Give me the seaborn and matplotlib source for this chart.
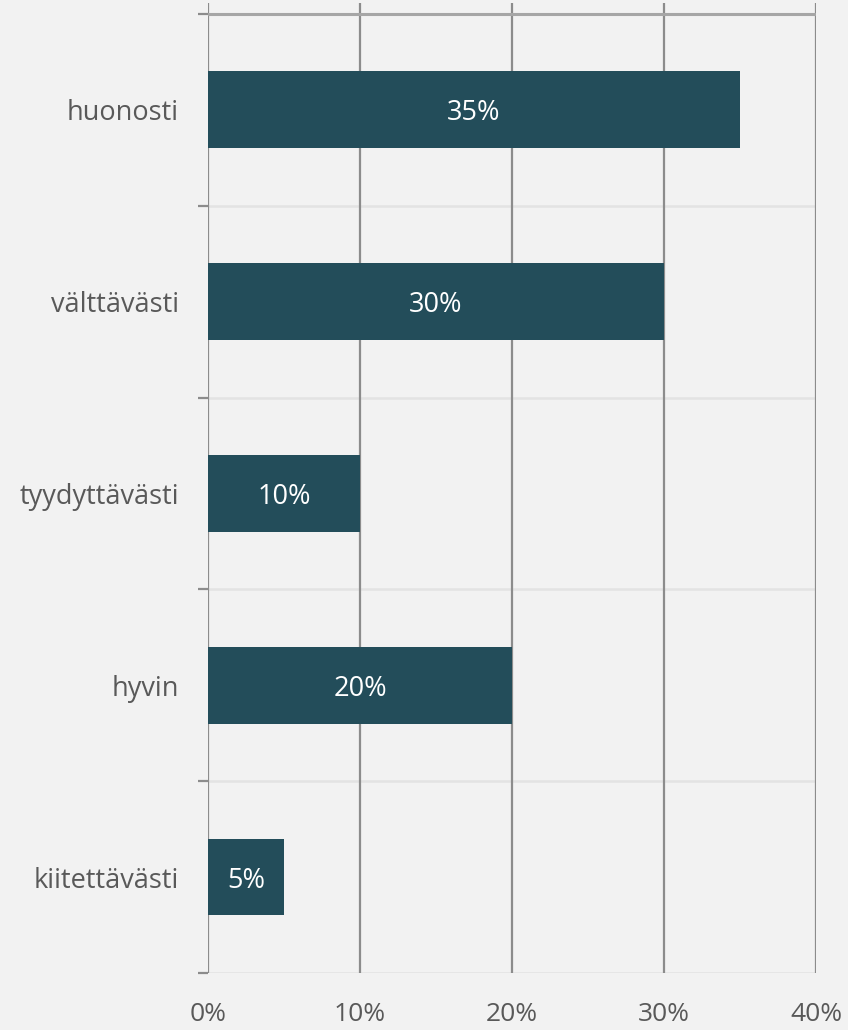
import matplotlib
matplotlib.use("Agg")
import matplotlib.pyplot as plt
import seaborn as sns
import pandas as pd

# Survey answers, top to bottom, with their shares in percent
categories = ["huonosti", "välttävästi", "tyydyttävästi", "hyvin", "kiitettävästi"]
shares = [35, 30, 10, 20, 5]
x_ticks = [0, 10, 20, 30, 40]
x_tick_labels = ["0%", "10%", "20%", "30%", "40%"]

BG = "#f2f2f2"
BAR = "#234d5a"
TEXT = "#595959"
GRID = "#8c8c8c"
SEP = "#e3e3e3"

sns.set_theme(style="white")
plt.rcParams["font.family"] = ["Open Sans", "DejaVu Sans"]

df = pd.DataFrame({"category": categories, "share": shares})

fig = plt.figure(figsize=(8.48, 10.30), dpi=100, facecolor=BG)
ax = fig.add_axes([208 / 848, 1 - 973 / 1030, 608 / 848, 970 / 1030])
ax.set_facecolor(BG)

sns.barplot(data=df, x="share", y="category", order=categories,
            color=BAR, width=0.4, saturation=1, linewidth=0,
            ax=ax, zorder=3)

n = len(categories)
ax.set_xlim(0, 40)
ax.set_ylim(n - 0.5, -0.557)

# vertical value gridlines
for x in x_ticks:
    ax.axvline(x, color=GRID, lw=1.6, zorder=1)

# separators between category bands
for i in range(n + 1):
    b = i - 0.5
    if i == 0:
        ax.axhline(b, color="#a6a6a6", lw=2.2, zorder=2)
    else:
        ax.axhline(b, color=SEP, lw=1.8, zorder=0.5)

# value labels inside bars
for i, v in enumerate(shares):
    ax.text(v / 2, i, f"{v}%", ha="center", va="center_baseline",
            color="white", fontsize=19.5, zorder=4)

for s in ax.spines.values():
    s.set_visible(False)

ax.set_xticks(x_ticks)
ax.set_xticklabels(x_tick_labels)
ax.tick_params(axis="x", length=0, pad=21, labelsize=19, labelcolor=TEXT)

# category labels at band centres, tick marks at band boundaries
ax.set_yticks(range(n))
ax.set_yticklabels(categories)
ax.tick_params(axis="y", which="major", length=0, pad=21,
               labelsize=19.5, labelcolor=TEXT)
ax.set_yticks([i - 0.5 for i in range(n + 1)], minor=True)
ax.tick_params(axis="y", which="minor", length=7.2, width=1.6, color=GRID,
               direction="out", left=True)

ax.set_xlabel("")
ax.set_ylabel("")

fig.savefig("out.png", dpi=100, facecolor=BG)
